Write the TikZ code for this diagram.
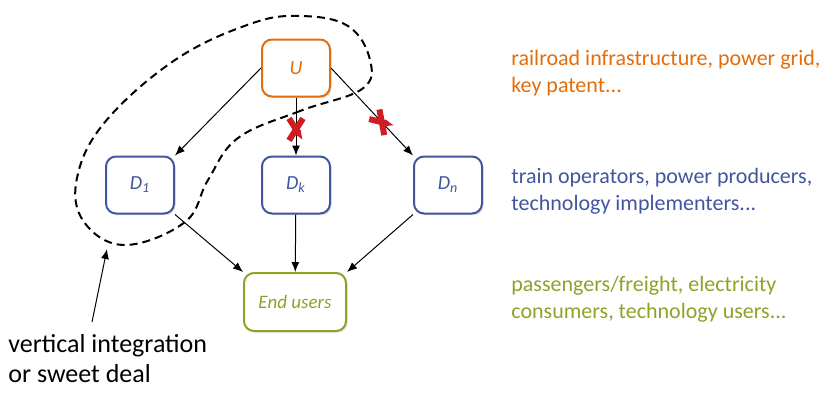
\documentclass[tikz,border=0pt]{standalone}
\usepackage{fontspec}
\setmainfont{Carlito}
\usepackage{tikz}
\usetikzlibrary{arrows.meta,shadows}
\definecolor{upcolor}{RGB}{228,108,10}
\definecolor{downcolor}{RGB}{66,86,158}
\definecolor{usercolor}{RGB}{146,160,40}
\definecolor{cutcolor}{RGB}{205,30,35}

\begin{document}
\begin{tikzpicture}[x=0.5pt, y=-0.5pt,
    box/.style={draw, line width=1pt, rounded corners=5pt, fill=white, minimum width=34pt, minimum height=28.5pt, inner sep=0pt, font=\itshape\fontsize{10}{11}\selectfont, drop shadow={opacity=.25, shadow xshift=.8pt, shadow yshift=-.8pt}},
    flow/.style={-{Latex[length=5pt, width=4pt]}, line width=.5pt},
    cut/.pic={\draw [cutcolor, line width=3pt] (-11,-7) -- (11,7) (-11,7) -- (11,-7);},
    note/.style={anchor=base west, align=left, inner sep=0pt, font=\fontsize{11}{13.5}\selectfont}]
        \useasboundingbox (0,0) rectangle (823,392);
        \node [box, draw=upcolor, text=upcolor] (U) at (296,68) {U};
        \node [box, draw=downcolor, text=downcolor] (D1) at (140,185) {D\textsubscript{1}};
        \node [box, draw=downcolor, text=downcolor] (Dk) at (296,185) {D\textsubscript{k}};
        \node [box, draw=downcolor, text=downcolor] (Dn) at (448,185) {D\textsubscript{n}};
        \node [box, draw=usercolor, text=usercolor, minimum width=51pt, minimum height=29pt, font=\itshape\fontsize{9.5}{11}\selectfont] (users) at (295,302) {End users};
        \draw [flow] (U.west) -- (D1.north east);
        \draw [flow] (U) -- (Dk) pic [pos=.55, sloped] {cut};
        \draw [flow] (U.east) -- (Dn.north west) pic [pos=.62, sloped] {cut};
        \draw [flow] (D1.south east) -- (users.north west);
        \draw [flow] (Dk) -- (users);
        \draw [flow] (Dn.south west) -- (users.north east);
        \draw [line width=1pt, dash pattern=on 4pt off 2.5pt] plot [smooth cycle, tension=.65] coordinates {(362,89) (300,111) (238,138) (208,180) (185,222) (125,245) (84,222) (77,178) (105,122) (175,60) (250,24) (300,16) (348,26) (370,60)};
        \coordinate (vitip) at (107,249);
        \node [note, font=\fontsize{13}{15}\selectfont] (vinote) at (8,382) {vertical integration\\or sweet deal};
        \draw [flow] (92,322) -- (vitip);
        \node [note, text=upcolor] (upnote) at (511,92) {railroad infrastructure, power grid,\\key patent...};
        \node [note, text=downcolor] (downnote) at (511,210) {train operators, power producers,\\technology implementers...};
        \node [note, text=usercolor] (usernote) at (511,318) {passengers/freight, electricity\\consumers, technology users...};
\end{tikzpicture}
\end{document}
